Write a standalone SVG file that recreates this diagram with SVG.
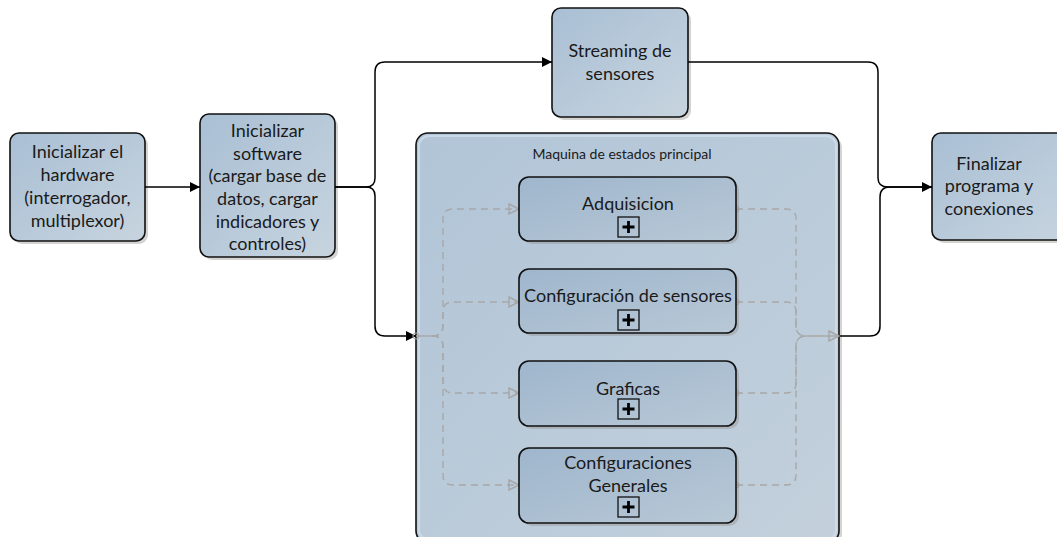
<svg xmlns="http://www.w3.org/2000/svg" width="1057" height="537" viewBox="0 0 1057 537">
  <defs>
    <linearGradient id="gNode" x1="0" y1="0" x2="1" y2="1">
      <stop offset="0" stop-color="#a9bfd4"/>
      <stop offset="1" stop-color="#c7d4df"/>
    </linearGradient>
    <linearGradient id="gPool" x1="0" y1="0" x2="1" y2="1">
      <stop offset="0" stop-color="#b1c5d7"/>
      <stop offset="1" stop-color="#c3d0dc"/>
    </linearGradient>
    <linearGradient id="gSub" x1="0" y1="0" x2="1" y2="1">
      <stop offset="0" stop-color="#9fb6cd"/>
      <stop offset="1" stop-color="#b8c8d6"/>
    </linearGradient>
    <marker id="arrowBlack" viewBox="0 0 10 10" refX="10" refY="5" markerWidth="10" markerHeight="10" markerUnits="userSpaceOnUse" orient="auto">
      <path d="M0,0 L10,5 L0,10 Z" fill="#000"/>
    </marker>
    <marker id="arrowHollow" viewBox="0 0 12 12" refX="11" refY="6" markerWidth="12" markerHeight="12" markerUnits="userSpaceOnUse" orient="auto">
      <path d="M1,1 L11,6 L1,11 Z" fill="none" stroke="#a6a6a6" stroke-width="1.4"/>
    </marker>
    <marker id="dotStart" viewBox="0 0 8 8" refX="4" refY="4" markerWidth="8" markerHeight="8" markerUnits="userSpaceOnUse" orient="auto">
      <circle cx="4" cy="4" r="3" fill="none" stroke="#a6a6a6" stroke-width="1.2"/>
    </marker>
  </defs>
  <style>
    .node { fill: url(#gNode); stroke: #111; stroke-width: 1.6; }
    .pool { fill: url(#gPool); stroke: #111; stroke-width: 1.6; }
    .sub { fill: url(#gSub); stroke: #111; stroke-width: 1.6; }
    .shadow { fill: #8a8580; opacity: 0.35; }
    .hl { fill: none; stroke: #d4e1ec; stroke-width: 2; opacity: 0.7; }
    .lbl { font-family: "Lato", "Liberation Sans", sans-serif; font-size: 18px; fill: #1a1a1a; text-anchor: middle; }
    .title { font-family: "Lato", "Liberation Sans", sans-serif; font-size: 14px; fill: #1a1a1a; text-anchor: middle; }
    .flow { fill: none; stroke: #000; stroke-width: 1.5; }
    .dash { fill: none; stroke: #a8a8a8; stroke-width: 1.4; stroke-dasharray: 7 5; }
    .solidg { fill: none; stroke: #a8a8a8; stroke-width: 1.4; }
    .plus { fill: none; stroke: #111; stroke-width: 1.3; }
    .plusmark { stroke: #000; stroke-width: 2.8; }
  </style>

  <!-- Initialise hardware -->
  <g id="node-hardware">
    <rect class="shadow" x="13" y="136" width="135" height="108" rx="9"/>
    <rect class="node" x="10" y="133" width="135" height="108" rx="9"/>
    <text class="lbl" x="77.5" y="158">Inicializar el</text>
    <text class="lbl" x="77.5" y="181">hardware</text>
    <text class="lbl" x="77.5" y="204">(interrogador,</text>
    <text class="lbl" x="77.5" y="227">multiplexor)</text>
  </g>

  <!-- Initialise software -->
  <g id="node-software">
    <rect class="shadow" x="203" y="117" width="135" height="143" rx="9"/>
    <rect class="node" x="200" y="114" width="135" height="143" rx="9"/>
    <text class="lbl" x="267.5" y="137">Inicializar</text>
    <text class="lbl" x="267.5" y="160">software</text>
    <text class="lbl" x="267.5" y="182">(cargar base de</text>
    <text class="lbl" x="267.5" y="205">datos, cargar</text>
    <text class="lbl" x="267.5" y="228">indicadores y</text>
    <text class="lbl" x="267.5" y="250">controles)</text>
  </g>

  <!-- Sensor streaming -->
  <g id="node-streaming">
    <rect class="shadow" x="555" y="11" width="136" height="109" rx="9"/>
    <rect class="node" x="552" y="8" width="136" height="109" rx="9"/>
    <text class="lbl" x="620" y="57">Streaming de</text>
    <text class="lbl" x="620" y="80">sensores</text>
  </g>

  <!-- Finish program -->
  <g id="node-finalizar">
    <rect class="shadow" x="935" y="136" width="140" height="107" rx="9"/>
    <rect class="node" x="932" y="133" width="140" height="107" rx="9"/>
    <text class="lbl" x="989" y="170">Finalizar</text>
    <text class="lbl" x="989" y="192">programa y</text>
    <text class="lbl" x="989" y="215">conexiones</text>
  </g>

  <!-- Main state machine (sub-process container) -->
  <g id="node-maquina">
    <rect class="shadow" x="419" y="136" width="423" height="410" rx="12"/>
    <rect class="pool" x="416" y="133" width="423" height="410" rx="12"/>
    <rect class="hl" x="419" y="136" width="417" height="404" rx="10"/>
    <text class="title" x="622" y="159">Maquina de estados principal</text>
  </g>

  <!-- Flow connectors -->
  <g id="connectors">
    <path class="flow" d="M145,187 H200" marker-end="url(#arrowBlack)"/>
    <path class="flow" d="M335,187 H366 Q375,187 375,178 V72 Q375,62 385,62 H552" marker-end="url(#arrowBlack)"/>
    <path class="flow" d="M335,187 H366 Q375,187 375,196 V326 Q375,336 385,336 H416" marker-end="url(#arrowBlack)"/>
    <path class="flow" d="M688,62 H868 Q878,62 878,72 V178 Q878,187 888,187 H932" marker-end="url(#arrowBlack)"/>
    <path class="flow" d="M839,336 H870 Q880,336 880,326 V197 Q880,187 890,187 H932"/>

    <!-- Inner split: entry to each sub-state -->
    <path class="solidg" d="M416,336 H432" marker-start="url(#dotStart)"/>
    <path class="dash" d="M432,336 Q443,336 443,326 V219 Q443,209 453,209 H519" marker-end="url(#arrowHollow)"/>
    <path class="dash" d="M432,336 Q443,336 443,326 V312 Q443,302 453,302 H519" marker-end="url(#arrowHollow)"/>
    <path class="dash" d="M432,336 Q443,336 443,346 V383 Q443,393 453,393 H519" marker-end="url(#arrowHollow)"/>
    <path class="dash" d="M432,336 Q443,336 443,346 V475 Q443,485 453,485 H519" marker-end="url(#arrowHollow)"/>

    <!-- Inner merge: each sub-state to the exit -->
    <path class="dash" d="M736,209 H786 Q796,209 796,219 V326 Q796,336 806,336" marker-start="url(#dotStart)"/>
    <path class="dash" d="M736,302 H786 Q796,302 796,312 V326 Q796,336 806,336" marker-start="url(#dotStart)"/>
    <path class="dash" d="M736,393 H786 Q796,393 796,383 V346 Q796,336 806,336" marker-start="url(#dotStart)"/>
    <path class="dash" d="M736,485 H786 Q796,485 796,475 V346 Q796,336 806,336" marker-start="url(#dotStart)"/>
    <path class="solidg" d="M806,336 H839" marker-end="url(#arrowHollow)"/>
  </g>

  <!-- Sub-states -->
  <g id="node-adquisicion">
    <rect class="shadow" x="522" y="180" width="217" height="64" rx="10"/>
    <rect class="sub" x="519" y="177" width="217" height="64" rx="10"/>
    <text class="lbl" x="628" y="210">Adquisicion</text>
    <rect class="plus" x="618" y="217" width="21" height="20"/>
    <path class="plusmark" d="M622.5,227 H634.5 M628.5,221 V233"/>
  </g>

  <g id="node-config-sensores">
    <rect class="shadow" x="522" y="272" width="217" height="64" rx="10"/>
    <rect class="sub" x="519" y="269" width="217" height="64" rx="10"/>
    <text class="lbl" x="628" y="302">Configuración de sensores</text>
    <rect class="plus" x="618" y="310" width="21" height="20"/>
    <path class="plusmark" d="M622.5,320 H634.5 M628.5,314 V326"/>
  </g>

  <g id="node-graficas">
    <rect class="shadow" x="522" y="364" width="217" height="65" rx="10"/>
    <rect class="sub" x="519" y="361" width="217" height="65" rx="10"/>
    <text class="lbl" x="628" y="395">Graficas</text>
    <rect class="plus" x="618" y="399" width="21" height="20"/>
    <path class="plusmark" d="M622.5,409 H634.5 M628.5,403 V415"/>
  </g>

  <g id="node-config-generales">
    <rect class="shadow" x="522" y="451" width="217" height="75" rx="10"/>
    <rect class="sub" x="519" y="448" width="217" height="75" rx="10"/>
    <text class="lbl" x="628" y="469">Configuraciones</text>
    <text class="lbl" x="628" y="492">Generales</text>
    <rect class="plus" x="618" y="497" width="21" height="20"/>
    <path class="plusmark" d="M622.5,507 H634.5 M628.5,501 V513"/>
  </g>
</svg>
